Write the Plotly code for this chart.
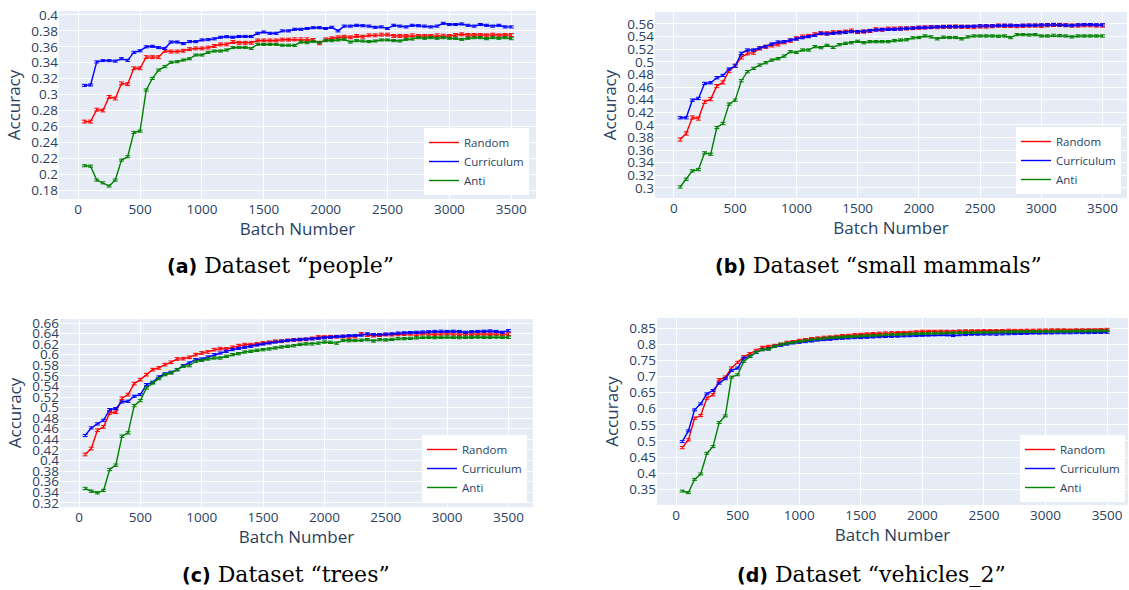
import plotly.graph_objects as go

# Batch numbers at which accuracy was evaluated
batches = list(range(50, 3501, 50))

# Dataset "people"
people_random = [
    0.266, 0.266, 0.281, 0.280, 0.297, 0.295, 0.314, 0.313, 0.333, 0.333,
    0.347, 0.347, 0.347, 0.355, 0.354, 0.354, 0.355, 0.357, 0.358, 0.358,
    0.359, 0.361, 0.363, 0.363, 0.366, 0.365, 0.365, 0.365, 0.368, 0.368,
    0.368, 0.368, 0.369, 0.369, 0.3694, 0.3694, 0.3694, 0.3686, 0.3644, 0.3694,
    0.3707, 0.3719, 0.3727, 0.3719, 0.3736, 0.3727, 0.3744, 0.3744, 0.3753, 0.3753,
    0.3736, 0.3736, 0.3736, 0.3744, 0.3736, 0.3736, 0.3736, 0.3744, 0.374, 0.3736,
    0.3748, 0.3757, 0.3748, 0.3748, 0.3748, 0.3744, 0.3753, 0.3744, 0.3748, 0.3748,
]
people_curriculum = [
    0.3115, 0.312, 0.341, 0.3426, 0.3426, 0.342, 0.345, 0.343, 0.353, 0.355,
    0.360, 0.3606, 0.359, 0.358, 0.366, 0.366, 0.364, 0.3665, 0.3665, 0.3686,
    0.369, 0.370, 0.372, 0.3727, 0.372, 0.373, 0.373, 0.373, 0.377, 0.3786,
    0.377, 0.377, 0.380, 0.380, 0.382, 0.382, 0.383, 0.384, 0.384, 0.383,
    0.3845, 0.380, 0.386, 0.386, 0.387, 0.3865, 0.386, 0.3845, 0.385, 0.383,
    0.387, 0.386, 0.385, 0.387, 0.3865, 0.386, 0.385, 0.386, 0.3895, 0.388,
    0.388, 0.3887, 0.387, 0.386, 0.388, 0.387, 0.386, 0.387, 0.385, 0.385,
]
people_anti = [
    0.2105, 0.210, 0.1925, 0.189, 0.185, 0.1925, 0.2176, 0.2218, 0.2524, 0.254,
    0.3057, 0.3203, 0.3308, 0.335, 0.3405, 0.3413, 0.3434, 0.345, 0.3497, 0.3497,
    0.353, 0.3547, 0.3547, 0.356, 0.359, 0.3593, 0.3593, 0.358, 0.363, 0.363,
    0.363, 0.363, 0.362, 0.362, 0.3618, 0.366, 0.3652, 0.3669, 0.3656, 0.3677,
    0.3677, 0.3686, 0.3694, 0.366, 0.3677, 0.3673, 0.3665, 0.3673, 0.3686, 0.3686,
    0.3677, 0.3673, 0.3694, 0.3698, 0.3715, 0.3707, 0.3715, 0.3707, 0.3715, 0.3707,
    0.3707, 0.3694, 0.3707, 0.3715, 0.3715, 0.3702, 0.3715, 0.3707, 0.3715, 0.3702,
]

# Dataset "small mammals"
mammals_random = [
    0.3767, 0.3863, 0.4117, 0.410, 0.4366, 0.4408, 0.4615, 0.4673, 0.4858, 0.4938,
    0.507, 0.5134, 0.5145, 0.5213, 0.524, 0.526, 0.5277, 0.531, 0.5335, 0.5372,
    0.540, 0.541, 0.5436, 0.5452, 0.5452, 0.5468, 0.5468, 0.5478, 0.5494, 0.5473,
    0.548, 0.549, 0.5515, 0.551, 0.5525, 0.5525, 0.553, 0.553, 0.5535, 0.554,
    0.5545, 0.555, 0.555, 0.5555, 0.5555, 0.556, 0.5555, 0.5555, 0.555, 0.556,
    0.556, 0.5565, 0.5575, 0.557, 0.557, 0.5565, 0.557, 0.5575, 0.5575, 0.557,
    0.558, 0.5585, 0.5585, 0.558, 0.5575, 0.5575, 0.558, 0.558, 0.5575, 0.5575,
]
mammals_curriculum = [
    0.4112, 0.4112, 0.4392, 0.4419, 0.4657, 0.4668, 0.4747, 0.4784, 0.4885, 0.4933,
    0.5134, 0.5187, 0.5187, 0.5219, 0.524, 0.5282, 0.5314, 0.5319, 0.5346, 0.5362,
    0.5383, 0.540, 0.542, 0.5452, 0.5441, 0.5452, 0.5462, 0.5468, 0.5478, 0.5478,
    0.5483, 0.5494, 0.5505, 0.551, 0.5515, 0.5515, 0.552, 0.553, 0.5535, 0.5545,
    0.5545, 0.555, 0.5555, 0.5555, 0.556, 0.5555, 0.556, 0.556, 0.5565, 0.557,
    0.557, 0.557, 0.5575, 0.558, 0.558, 0.5575, 0.558, 0.558, 0.558, 0.5585,
    0.5585, 0.559, 0.5585, 0.558, 0.5575, 0.5585, 0.559, 0.559, 0.5585, 0.5585,
]
mammals_anti = [
    0.3015, 0.3137, 0.327, 0.3291, 0.3556, 0.3534, 0.3958, 0.4022, 0.4329, 0.4392,
    0.470, 0.4843, 0.4896, 0.4949, 0.4986, 0.5028, 0.5049, 0.5091, 0.516, 0.515,
    0.5187, 0.5187, 0.524, 0.5224, 0.5261, 0.5229, 0.5272, 0.5293, 0.5303, 0.5325,
    0.5303, 0.5319, 0.5319, 0.532, 0.532, 0.5335, 0.5345, 0.535, 0.538, 0.5385,
    0.541, 0.5395, 0.5365, 0.539, 0.5385, 0.5385, 0.5365, 0.5395, 0.541, 0.541,
    0.541, 0.541, 0.5405, 0.541, 0.5385, 0.543, 0.543, 0.5425, 0.543, 0.541,
    0.541, 0.542, 0.5415, 0.541, 0.5395, 0.541, 0.541, 0.541, 0.541, 0.541,
]

# Dataset "trees"
trees_random = [
    0.4113, 0.4226, 0.4572, 0.4635, 0.490, 0.4912, 0.5177, 0.5246, 0.5454, 0.5529,
    0.5624, 0.5718, 0.575, 0.5813, 0.5857, 0.592, 0.5926, 0.5951, 0.6002, 0.6033,
    0.6052, 0.6096, 0.6115, 0.6109, 0.614, 0.6172, 0.6191, 0.6191, 0.6203, 0.6222,
    0.6235, 0.6254, 0.6254, 0.627, 0.628, 0.6285, 0.629, 0.631, 0.6335, 0.6335,
    0.634, 0.634, 0.6345, 0.6335, 0.6345, 0.6395, 0.637, 0.636, 0.637, 0.638,
    0.638, 0.6385, 0.639, 0.6395, 0.639, 0.640, 0.6395, 0.6385, 0.6395, 0.640,
    0.6395, 0.639, 0.6385, 0.639, 0.6395, 0.6395, 0.639, 0.6395, 0.639, 0.639,
]
trees_curriculum = [
    0.4472, 0.4616, 0.4692, 0.4761, 0.4963, 0.4982, 0.5108, 0.512, 0.5215, 0.5246,
    0.5435, 0.5479, 0.558, 0.5637, 0.5668, 0.5718, 0.5794, 0.5844, 0.5907, 0.592,
    0.5958, 0.6002, 0.6033, 0.6065, 0.6096, 0.6121, 0.614, 0.6159, 0.6184, 0.6203,
    0.6222, 0.6241, 0.626, 0.627, 0.628, 0.629, 0.6295, 0.630, 0.631, 0.632,
    0.633, 0.6345, 0.635, 0.636, 0.6365, 0.637, 0.6395, 0.638, 0.638, 0.639,
    0.6395, 0.641, 0.6415, 0.642, 0.6425, 0.643, 0.6435, 0.644, 0.6445, 0.644,
    0.6445, 0.644, 0.6425, 0.6435, 0.644, 0.6445, 0.645, 0.644, 0.6425, 0.6455,
]
trees_anti = [
    0.347, 0.342, 0.3388, 0.3433, 0.3829, 0.3911, 0.4459, 0.4522, 0.5038, 0.5133,
    0.5372, 0.5467, 0.5548, 0.5624, 0.5655, 0.5718, 0.5781, 0.5794, 0.5876, 0.5895,
    0.592, 0.5939, 0.5939, 0.597, 0.6002, 0.6021, 0.6052, 0.6065, 0.6084, 0.6096,
    0.6109, 0.6128, 0.6147, 0.616, 0.617, 0.6195, 0.6205, 0.6205, 0.622, 0.624,
    0.6235, 0.622, 0.627, 0.6265, 0.627, 0.6275, 0.6285, 0.626, 0.6285, 0.628,
    0.629, 0.6305, 0.6305, 0.631, 0.632, 0.633, 0.633, 0.6325, 0.633, 0.6335,
    0.633, 0.6325, 0.633, 0.633, 0.6335, 0.633, 0.633, 0.6335, 0.633, 0.633,
]

# Dataset "vehicles_2"
vehicles_random = [
    0.4794, 0.5032, 0.5705, 0.5788, 0.6326, 0.643, 0.6895, 0.6978, 0.7258, 0.7434,
    0.761, 0.7703, 0.7806, 0.790, 0.793, 0.796, 0.800, 0.8055, 0.8076, 0.8117,
    0.8138, 0.8169, 0.819, 0.821, 0.822, 0.824, 0.8262, 0.827, 0.829, 0.830,
    0.8314, 0.8324, 0.8334, 0.8345, 0.835, 0.8355, 0.836, 0.8365, 0.838, 0.8395,
    0.8395, 0.8395, 0.840, 0.8395, 0.8395, 0.8405, 0.841, 0.841, 0.841, 0.8415,
    0.8415, 0.8415, 0.842, 0.843, 0.8425, 0.8425, 0.843, 0.843, 0.8435, 0.8435,
    0.844, 0.844, 0.844, 0.8435, 0.844, 0.844, 0.844, 0.844, 0.8445, 0.8455,
]
vehicles_curriculum = [
    0.498, 0.5312, 0.5964, 0.615, 0.646, 0.6564, 0.6792, 0.6927, 0.7185, 0.7258,
    0.7568, 0.762, 0.7744, 0.7827, 0.7848, 0.793, 0.796, 0.800, 0.8034, 0.8055,
    0.8076, 0.8096, 0.8127, 0.8138, 0.8148, 0.8169, 0.8179, 0.819, 0.820, 0.820,
    0.821, 0.822, 0.823, 0.8235, 0.824, 0.8245, 0.8255, 0.826, 0.8265, 0.8275,
    0.828, 0.8285, 0.829, 0.8285, 0.8265, 0.829, 0.8295, 0.8305, 0.8305, 0.831,
    0.831, 0.8305, 0.8315, 0.832, 0.8325, 0.833, 0.8335, 0.8345, 0.834, 0.8345,
    0.8345, 0.835, 0.835, 0.835, 0.8355, 0.8355, 0.8355, 0.836, 0.836, 0.8365,
]
vehicles_anti = [
    0.3448, 0.3397, 0.381, 0.3976, 0.4618, 0.4825, 0.557, 0.5777, 0.6978, 0.705,
    0.7465, 0.762, 0.7744, 0.7827, 0.7848, 0.793, 0.7993, 0.8024, 0.8055, 0.8086,
    0.8107, 0.8138, 0.8158, 0.8179, 0.820, 0.821, 0.822, 0.823, 0.8241, 0.8252,
    0.826, 0.827, 0.828, 0.829, 0.8295, 0.830, 0.831, 0.8315, 0.832, 0.833,
    0.8335, 0.834, 0.8345, 0.8345, 0.835, 0.8355, 0.836, 0.836, 0.8365, 0.837,
    0.837, 0.8375, 0.838, 0.838, 0.8385, 0.8385, 0.839, 0.839, 0.839, 0.8395,
    0.8395, 0.840, 0.840, 0.840, 0.8405, 0.8405, 0.841, 0.841, 0.841, 0.8415,
]

# Error bar half-widths (Random, Curriculum, Anti) per dataset
people_err = [0.0018, 0.0013, 0.0013]
mammals_err = [0.0025, 0.0018, 0.0018]
trees_err = [0.0025, 0.0020, 0.0022]
vehicles_err = [0.0035, 0.0030, 0.0030]

series_names = ["Random", "Curriculum", "Anti"]
series_colors = ["#ff0000", "#0000ff", "#008000"]

W, H = 1129, 590


def px_dom_x(a, b):
    return [a / W, b / W]


def px_dom_y(top, bottom):
    return [1 - bottom / H, 1 - top / H]


panels = [
    dict(label="a", name="people", series=[people_random, people_curriculum, people_anti],
         err=people_err, xpx=(59, 536), ypx=(11, 199), yrange=[0.1687, 0.405],
         xrange=[-155, 3700], dtick=0.02, legend_px=(529, 195), caption_px=(280, 265)),
    dict(label="b", name="small mammals", series=[mammals_random, mammals_curriculum, mammals_anti],
         err=mammals_err, xpx=(655, 1127), ypx=(12, 198), yrange=[0.284, 0.579],
         xrange=[-155, 3700], dtick=0.02, legend_px=(1121, 194), caption_px=(878, 265)),
    dict(label="c", name="trees", series=[trees_random, trees_curriculum, trees_anti],
         err=trees_err, xpx=(60, 533), ypx=(319, 507), yrange=[0.312, 0.6676],
         xrange=[-155, 3700], dtick=0.02, legend_px=(527, 502), caption_px=(286, 574)),
    dict(label="d", name="vehicles_2", series=[vehicles_random, vehicles_curriculum, vehicles_anti],
         err=vehicles_err, xpx=(657, 1128), ypx=(318, 505), yrange=[0.3015, 0.881],
         xrange=[-155, 3670], dtick=0.05, legend_px=(1125, 502), caption_px=(872, 574)),
]

fig = go.Figure()
tick_font = dict(family="Open Sans", size=13.5, color="#2a3f5f")
title_font = dict(family="Open Sans", size=17, color="#2a3f5f")
layout = {}
annotations = []

for i, p in enumerate(panels):
    n = "" if i == 0 else str(i + 1)
    legend_id = "legend" + n
    for vals, err, name, color in zip(p["series"], p["err"], series_names, series_colors):
        fig.add_trace(go.Scatter(
            x=batches, y=vals, name=name, mode="lines",
            line=dict(color=color, width=1.4),
            error_y=dict(type="constant", value=err, color=color, thickness=1, width=2.5),
            xaxis="x" + n, yaxis="y" + n, legend=legend_id,
        ))
    layout["xaxis" + n] = dict(
        domain=px_dom_x(*p["xpx"]), anchor="y" + n, range=p["xrange"], dtick=500,
        tickfont=tick_font, title=dict(text="Batch Number", font=title_font, standoff=4),
        automargin=False, zeroline=False, showline=False,
    )
    layout["yaxis" + n] = dict(
        domain=px_dom_y(*p["ypx"]), anchor="x" + n, range=p["yrange"], dtick=p["dtick"],
        tickfont=tick_font, title=dict(text="Accuracy", font=title_font, standoff=6),
        automargin=False, zeroline=False, showline=False,
    )
    lx, ly = p["legend_px"]
    layout[legend_id] = dict(
        x=lx / W, y=1 - ly / H, xanchor="right", yanchor="bottom",
        bgcolor="white", font=dict(family="Open Sans", size=11.5, color="#2a3f5f"),
        itemwidth=30, tracegroupgap=0,
    )
    cx, cy = p["caption_px"]
    annotations.append(dict(
        x=cx / W, y=1 - cy / H, xref="paper", yref="paper", showarrow=False,
        xanchor="center", yanchor="middle",
        text=('<span style="font-family:DejaVu Sans;font-weight:bold;font-size:19px">(%s)</span> '
              'Dataset “%s”' % (p["label"], p["name"])),
        font=dict(family="DejaVu Serif", size=22, color="black"),
    ))

fig.update_layout(
    template="plotly",
    width=W, height=H,
    margin=dict(l=0, r=0, t=0, b=0),
    paper_bgcolor="white",
    plot_bgcolor="#E5ECF6",
    showlegend=True,
    annotations=annotations,
    **layout,
)

fig.write_html("out.html")
